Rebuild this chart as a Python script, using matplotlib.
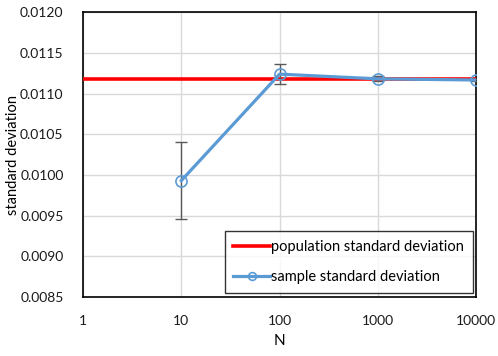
import matplotlib
matplotlib.use("Agg")
import matplotlib.pyplot as plt
from matplotlib.ticker import FixedLocator, FixedFormatter

plt.rcParams['font.family'] = ['Lato', 'DejaVu Sans']

# sample sizes and measured values
pop_n = [1, 10, 100, 1000, 10000]
pop_sd = [0.01118, 0.01118, 0.01118, 0.01118, 0.01118]

sample_n = [10, 100, 1000, 10000]
sample_sd = [0.00993, 0.011238, 0.01118, 0.011166]
sample_err = [0.00047, 0.00012, 0.00003, 0.00001]

x_ticks = [1, 10, 100, 1000, 10000]
x_labels = ["1", "10", "100", "1000", "10000"]
y_ticks = [0.0085, 0.0090, 0.0095, 0.0100, 0.0105, 0.0110, 0.0115, 0.0120]

fig = plt.figure(figsize=(4.98, 3.56), dpi=100)
ax = fig.add_axes([0.1667, 0.1657, 0.7893, 0.8003])

ax.plot(pop_n, pop_sd, color="#FF0000", lw=2.6, label="population standard deviation", zorder=3)
ax.errorbar(sample_n, sample_sd, yerr=sample_err, fmt="none", ecolor="#595959",
            elinewidth=1.0, capsize=4, capthick=1.0, zorder=4)
ax.plot(sample_n, sample_sd, color="#5B9BD5", lw=2.3, marker="o", ms=8,
        mfc="none", mec="#5B9BD5", mew=1.2, label="sample standard deviation", zorder=5)

ax.set_xscale("log")
ax.set_xlim(1, 10000)
ax.set_ylim(0.0085, 0.0120)
ax.xaxis.set_major_locator(FixedLocator(x_ticks))
ax.xaxis.set_major_formatter(FixedFormatter(x_labels))
ax.xaxis.set_minor_locator(FixedLocator([]))
ax.set_yticks(y_ticks)
ax.set_yticklabels([f"{v:.4f}" for v in y_ticks])

ax.grid(True, color="#D9D9D9", lw=1.0, zorder=0)
ax.set_axisbelow(True)
for s in ax.spines.values():
    s.set_color("black")
    s.set_linewidth(1.2)
ax.tick_params(length=0, labelsize=10, colors="#1a1a1a")
ax.tick_params(axis="y", pad=14)
ax.tick_params(axis="x", pad=13)

ax.set_xlabel("N", fontsize=11, labelpad=5)
ax.set_ylabel("standard deviation", fontsize=10.5, labelpad=0)

leg = ax.legend(loc="lower right", fontsize=10.5, frameon=True, fancybox=False,
                edgecolor="black", handlelength=2.5, handletextpad=0.1,
                labelspacing=1.1, borderpad=0.6, markerscale=0.7,
                borderaxespad=0, bbox_to_anchor=(0.992, 0.014))
leg.get_frame().set_linewidth(1.0)

fig.savefig("out.png", dpi=100, facecolor="white")
